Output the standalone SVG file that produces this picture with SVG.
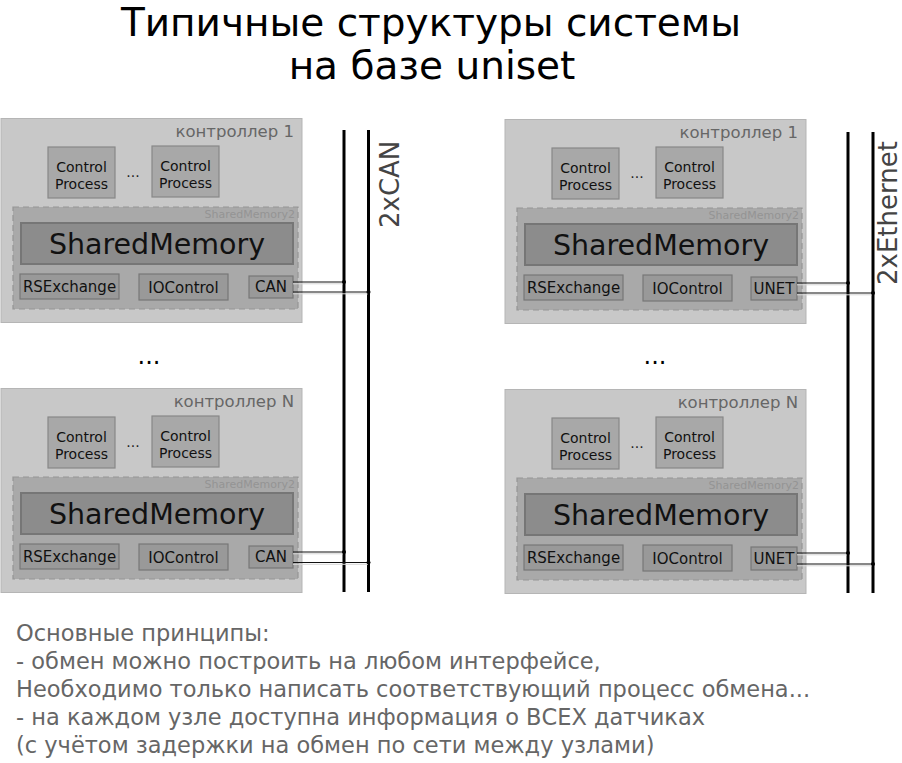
<svg xmlns="http://www.w3.org/2000/svg" width="902" height="763" viewBox="0 0 902 763">
<style>
text{font-family:"DejaVu Sans","Noto Sans",sans-serif}
.outer{fill:#c8c8c8;stroke:#b5b5b5;stroke-width:1}
.lbl{font-size:16.5px;fill:#666;text-anchor:end}
.cp{fill:#a8a8a8;stroke:#888;stroke-width:1.2}
.cpt{font-size:14px;fill:#111;text-anchor:middle}
.dots{font-size:14px;fill:#222;text-anchor:middle}
.sm2{fill:#a9a9a9;stroke:#959595;stroke-width:1.2;stroke-dasharray:6,4}
.sm2t{font-size:11px;fill:#949494;text-anchor:end}
.sm{fill:#8c8c8c;stroke:#767676;stroke-width:2}
.smt{font-size:28.5px;fill:#111;text-anchor:middle}
.mod{fill:#999;stroke:#777;stroke-width:1.2}
.modt{font-size:15px;fill:#111;text-anchor:middle}
.bus{stroke:#000;stroke-width:3;fill:none}
.wire{stroke:#111;stroke-width:1.2;fill:none}
.wireh{stroke:#d6d6d6;stroke-width:1;fill:none}
.bust{font-size:26px;fill:#444}
.title{font-size:39px;fill:#000;text-anchor:middle}
.note{font-size:22.5px;fill:#666}
.big{font-size:24px;fill:#000;text-anchor:middle}
</style>
<defs>
<g id="ctrlBody">
<rect class="outer" x="1" y="118.5" width="301" height="204"/>
<rect class="cp" x="48" y="147" width="67" height="51"/>
<text class="cpt" x="81.5" y="172">Control</text>
<text class="cpt" x="81.5" y="189">Process</text>
<text class="dots" x="133" y="177">...</text>
<rect class="cp" x="152" y="146" width="67" height="51"/>
<text class="cpt" x="185.5" y="171">Control</text>
<text class="cpt" x="185.5" y="188">Process</text>
<rect class="sm2" x="13" y="207" width="285" height="102"/>
<text class="sm2t" x="295" y="218">SharedMemory2</text>
<rect class="sm" x="21" y="223" width="272" height="41"/>
<text class="smt" x="157" y="253.5">SharedMemory</text>
<rect class="mod" x="20" y="274" width="99" height="25"/>
<text class="modt" x="69.5" y="292">RSExchange</text>
<rect class="mod" x="139" y="274" width="89" height="26"/>
<text class="modt" x="183.5" y="292.5">IOControl</text>
</g>
</defs>

<g id="title">
<text class="title" x="431" y="36">Типичные структуры системы</text>
<text class="title" x="432" y="79">на базе uniset</text>
</g>

<g id="can-ctrl-1">
<use href="#ctrlBody"/>
<text class="lbl" x="294" y="137">контроллер 1</text>
<rect class="mod" x="249" y="276" width="44" height="22"/>
<text class="modt" x="271" y="292">CAN</text>
</g>

<g id="can-ctrl-n" transform="translate(0,270)">
<use href="#ctrlBody"/>
<text class="lbl" x="294" y="137">контроллер N</text>
<rect class="mod" x="249" y="276" width="44" height="22"/>
<text class="modt" x="271" y="292">CAN</text>
</g>

<g id="eth-ctrl-1" transform="translate(504,1)">
<use href="#ctrlBody"/>
<text class="lbl" x="294" y="137">контроллер 1</text>
<rect class="mod" x="247" y="276" width="46" height="23"/>
<text class="modt" x="270" y="292.5">UNET</text>
</g>

<g id="eth-ctrl-n" transform="translate(504,271)">
<use href="#ctrlBody"/>
<text class="lbl" x="294" y="137">контроллер N</text>
<rect class="mod" x="247" y="276" width="46" height="23"/>
<text class="modt" x="270" y="292.5">UNET</text>
</g>

<g id="ellipsis">
<text class="big" x="149" y="364">...</text>
<text class="big" x="655" y="364">...</text>
</g>

<g id="bus-can">
<line class="bus" x1="344" y1="130" x2="344" y2="592"/>
<line class="bus" x1="368.5" y1="130" x2="368.5" y2="592"/>
<text class="bust" transform="translate(399,228) rotate(-90)">2xCAN</text>
</g>

<g id="bus-eth">
<line class="bus" x1="848" y1="132" x2="848" y2="593"/>
<line class="bus" x1="873" y1="132" x2="873" y2="593"/>
<text class="bust" transform="translate(897,285) rotate(-90)">2xEthernet</text>
</g>

<g id="connectors">
<line class="wireh" x1="293" y1="283.8" x2="343" y2="283.8"/>
<line class="wireh" x1="293" y1="293.8" x2="368" y2="293.8"/>
<line class="wire" x1="293" y1="282" x2="344" y2="282"/>
<line class="wire" x1="293" y1="292" x2="369" y2="292"/>
<circle cx="344" cy="282" r="2"/>
<circle cx="368.5" cy="292" r="2"/>

<line class="wireh" x1="293" y1="553.8" x2="343" y2="553.8"/>
<line class="wireh" x1="293" y1="564.3" x2="368" y2="564.3"/>
<line class="wire" x1="293" y1="552" x2="344" y2="552"/>
<line class="wire" x1="293" y1="562.5" x2="369" y2="562.5"/>
<circle cx="344" cy="552" r="2"/>
<circle cx="368.5" cy="562.5" r="2"/>

<line class="wireh" x1="797" y1="284.8" x2="847" y2="284.8"/>
<line class="wireh" x1="797" y1="294.8" x2="872" y2="294.8"/>
<line class="wire" x1="797" y1="283" x2="848" y2="283"/>
<line class="wire" x1="797" y1="293" x2="873" y2="293"/>
<circle cx="848" cy="283" r="2"/>
<circle cx="873" cy="293" r="2"/>

<line class="wireh" x1="797" y1="554.8" x2="847" y2="554.8"/>
<line class="wireh" x1="797" y1="565.8" x2="872" y2="565.8"/>
<line class="wire" x1="797" y1="553" x2="848" y2="553"/>
<line class="wire" x1="797" y1="564" x2="873" y2="564"/>
<circle cx="848" cy="553" r="2"/>
<circle cx="873" cy="564" r="2"/>
</g>

<g id="notes">
<text class="note" x="16" y="641">Основные принципы:</text>
<text class="note" x="16" y="669">- обмен можно построить на любом интерфейсе,</text>
<text class="note" x="16" y="697">Необходимо только написать соответствующий процесс обмена...</text>
<text class="note" x="16" y="725">- на каждом узле доступна информация о ВСЕХ датчиках</text>
<text class="note" x="16" y="753">(с учётом задержки на обмен по сети между узлами)</text>
</g>
</svg>
